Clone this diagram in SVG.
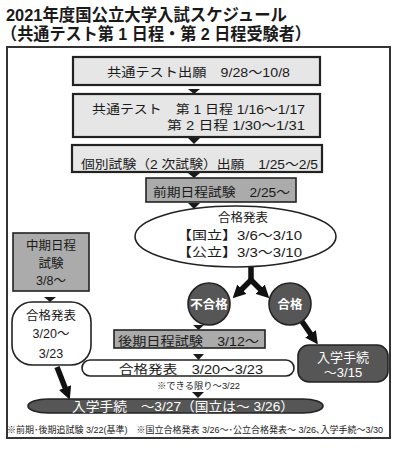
<svg xmlns="http://www.w3.org/2000/svg" width="402" height="450" viewBox="0 0 402 450">
<defs>
<style>
text{font-family:"Liberation Sans","Noto Sans CJK JP",sans-serif;fill:#1a1a1a;}
.t{font-size:17px;font-weight:bold;}
.b{font-size:12.5px;}
.w{fill:#fff;font-size:12.5px;font-weight:bold;}
.wn{fill:#fff;font-size:13px;}
.s{font-size:9px;}
.lt{fill:#e6e6e6;stroke:#222;stroke-width:2.2;}
.md{fill:#ababab;stroke:#222;stroke-width:1.6;}
.dk{fill:#565656;stroke:#222;stroke-width:1.6;}
.wh{fill:#fff;stroke:#222;stroke-width:1.6;}
.tri{fill:#1a1a1a;}
.thick{fill:none;stroke:#111;stroke-width:5.5;marker-end:url(#ah);}
</style>
<marker id="ah" viewBox="0 0 10 10" refX="2" refY="5" markerWidth="13" markerHeight="13" markerUnits="userSpaceOnUse" orient="auto">
<path d="M0,0 L10,5 L0,10 z" fill="#111"/>
</marker>
</defs>
<rect width="402" height="450" fill="#fff"/>
<g id="title">
<text class="t" x="6" y="21" textLength="281" lengthAdjust="spacingAndGlyphs">2021年度国公立大学入試スケジュール</text>
<text class="t" x="1" y="40" textLength="310" lengthAdjust="spacingAndGlyphs">（共通テスト第 1 日程・第 2 日程受験者）</text>
</g>
<rect id="frame" x="7" y="47" width="383" height="391" fill="none" stroke="#333" stroke-width="2"/>

<g id="connectors">
<polygon class="tri" points="188,89 200,89 194,94"/>
<polygon class="tri" points="188,138 200,138 194,144"/>
<polygon class="tri" points="188,173 200,173 194,178"/>
<polygon class="tri" points="188,203 200,203 194,209"/>
<polygon class="tri" points="193,325 204,325 198.5,330"/>
<polygon class="tri" points="193,354 204,354 198.5,360"/>
<polygon class="tri" points="44,297 56,297 50,302"/>
<polygon class="tri" points="192,392 204,392 198,398"/>
<path d="M251,266 L251,281" fill="none" stroke="#111" stroke-width="5.5"/>
<path class="thick" d="M252,279 L240,291"/>
<path class="thick" d="M250,279 L262,291"/>
<path class="thick" d="M301,320 L312,336"/>
<path class="thick" d="M57,367 L66,390"/>
</g>

<g id="n1">
<rect class="lt" x="73" y="57" width="247" height="28"/>
<text class="b" x="107" y="76.5" textLength="183" lengthAdjust="spacingAndGlyphs">共通テスト出願　9/28〜10/8</text>
</g>
<g id="n2">
<rect class="lt" x="73" y="94" width="247" height="43"/>
<text class="b" x="92" y="114" textLength="213" lengthAdjust="spacingAndGlyphs">共通テスト　第 1 日程 1/16〜1/17</text>
<text class="b" x="167" y="129.5" textLength="138" lengthAdjust="spacingAndGlyphs">第 2 日程 1/30〜1/31</text>
</g>
<g id="n3">
<rect class="lt" x="72" y="145" width="250" height="27"/>
<text class="b" x="81" y="168.5" textLength="237" lengthAdjust="spacingAndGlyphs">個別試験（2 次試験）出願　1/25〜2/5</text>
</g>
<g id="n4">
<rect class="md" x="146" y="178" width="150" height="24"/>
<text class="b" x="153" y="197" textLength="137" lengthAdjust="spacingAndGlyphs">前期日程試験　2/25〜</text>
</g>
<g id="n5">
<ellipse class="wh" cx="235.5" cy="236.5" rx="100.5" ry="30.5"/>
<text class="b" x="218" y="222" textLength="50" lengthAdjust="spacingAndGlyphs">合格発表</text>
<text class="b" x="177" y="240" textLength="125" lengthAdjust="spacingAndGlyphs">【国立】3/6〜3/10</text>
<text class="b" x="177" y="257" textLength="125" lengthAdjust="spacingAndGlyphs">【公立】3/3〜3/10</text>
</g>
<g id="n6">
<circle class="dk" cx="209" cy="304" r="21"/>
<text class="w" x="209" y="308.5" text-anchor="middle">不合格</text>
</g>
<g id="n7">
<circle class="dk" cx="290" cy="304" r="21"/>
<text class="w" x="290" y="308.5" text-anchor="middle">合格</text>
</g>
<g id="n8">
<rect class="md" x="114" y="330" width="151" height="18"/>
<text class="b" x="118" y="345.5" textLength="141" lengthAdjust="spacingAndGlyphs">後期日程試験　3/12〜</text>
</g>
<g id="n9">
<rect class="wh" x="82" y="360" width="212" height="16" rx="8"/>
<text class="b" x="119" y="373.5" textLength="144" lengthAdjust="spacingAndGlyphs">合格発表　3/20〜3/23</text>
</g>
<g id="n10">
<rect class="dk" x="298" y="345" width="90" height="37" rx="11"/>
<text class="wn" x="343" y="361.5" text-anchor="middle">入学手続</text>
<text class="wn" x="343" y="377" text-anchor="middle">〜3/15</text>
</g>
<g id="n11">
<rect class="md" x="13" y="233" width="76" height="58"/>
<text class="b" x="51" y="249.5" text-anchor="middle">中期日程</text>
<text class="b" x="51" y="267.5" text-anchor="middle">試験</text>
<text class="b" x="51" y="284.5" text-anchor="middle">3/8〜</text>
</g>
<g id="n12">
<rect class="wh" x="12" y="302" width="79" height="63" rx="20"/>
<text class="b" x="51" y="319.5" text-anchor="middle">合格発表</text>
<text class="b" x="51" y="338" text-anchor="middle">3/20〜</text>
<text class="b" x="51" y="357.5" text-anchor="middle">3/23</text>
</g>
<g id="n13">
<text class="s" x="157" y="388.5" textLength="83" lengthAdjust="spacingAndGlyphs">※できる限り〜3/22</text>
</g>
<g id="n14">
<rect class="dk" x="28" y="399" width="295" height="14" rx="20" ry="7"/>
<text class="wn" x="72" y="410.5" textLength="222" lengthAdjust="spacingAndGlyphs">入学手続　〜3/27（国立は〜 3/26）</text>
</g>
<g id="note">
<text class="s" x="7" y="433" textLength="376" lengthAdjust="spacingAndGlyphs">※前期･後期追試験 3/22(基準)　※国立合格発表 3/26〜･公立合格発表〜 3/26､入学手続〜3/30</text>
</g>
</svg>
